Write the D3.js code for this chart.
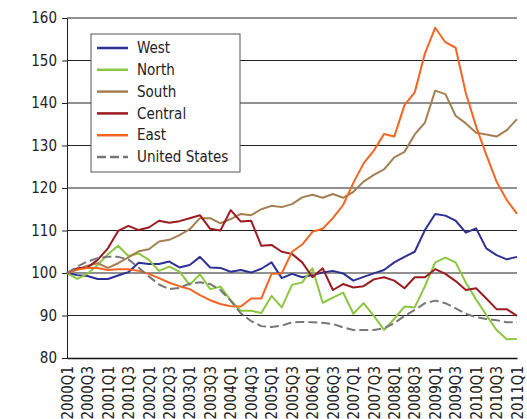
<!DOCTYPE html>
<html>
<head>
<meta charset="utf-8">
<script src="https://cdn.jsdelivr.net/npm/d3@7"></script>
<style>
  body { margin: 0; background: #fff; }
  svg text { font-family: "DejaVu Sans Condensed", "DejaVu Sans", sans-serif; font-stretch: condensed; fill: #222; }
</style>
</head>
<body>
<div id="chart"></div>
<script>
// quarters 2000Q1 .. 2011Q1
var quarters = [];
for (var yr = 2000; yr <= 2011; yr++) {
  for (var q = 1; q <= 4; q++) {
    if (yr == 2011 && q > 1) break;
    quarters.push(yr + "Q" + q);
  }
}

var yTicks = [80, 90, 100, 110, 120, 130, 140, 150, 160];

var west = [100, 99.5, 99.3, 98.6, 98.6, 99.4, 100.2, 102.4, 102.1, 102.1, 102.7, 101.3, 101.9, 103.8, 101.3, 101.2, 100.3, 100.7, 100.1, 101.0, 102.5, 98.8, 99.8, 99.0, 99.5, 100.1, 100.5, 99.9, 98.2, 99.1, 99.9, 100.7, 102.5, 103.8, 105.0, 110.1, 113.9, 113.5, 112.3, 109.5, 110.5, 105.8, 104.2, 103.2, 103.8];
var north = [100, 98.6, 99.8, 101.9, 104.4, 106.4, 104.0, 104.6, 103.1, 100.5, 101.5, 100.3, 97.2, 99.7, 96.2, 96.8, 93.6, 91.1, 91.1, 90.6, 94.6, 91.9, 97.2, 97.8, 101.1, 93.0, 94.2, 95.4, 90.4, 92.9, 89.9, 86.6, 89.2, 92.1, 91.9, 96.9, 102.5, 103.6, 102.5, 97.7, 93.8, 90.1, 86.6, 84.4, 84.5];
var south = [100, 100.8, 101.7, 102.3, 101.2, 102.3, 103.7, 105.1, 105.6, 107.4, 107.8, 108.9, 110.3, 112.9, 112.9, 111.7, 112.7, 113.9, 113.6, 115.0, 115.8, 115.5, 116.2, 117.8, 118.4, 117.7, 118.6, 117.7, 119.1, 121.5, 123.1, 124.4, 127.2, 128.5, 132.6, 135.4, 142.9, 142.1, 137.0, 135.2, 133.0, 132.6, 132.1, 133.6, 136.2];
var central = [100, 101.1, 101.3, 103.1, 105.8, 109.9, 111.1, 110.1, 110.7, 112.3, 111.8, 112.2, 112.9, 113.6, 110.4, 110.0, 114.8, 112.1, 112.3, 106.4, 106.6, 105.0, 104.5, 102.5, 99.0, 101.1, 96.0, 97.4, 96.6, 96.9, 98.5, 99.0, 98.2, 96.4, 99.0, 99.0, 100.9, 99.8, 98.1, 96.0, 96.4, 94.0, 91.5, 91.5, 89.9];
var east = [100, 100.8, 101.2, 101.2, 100.7, 100.9, 100.9, 100.5, 99.8, 98.8, 97.7, 96.9, 96.2, 94.8, 93.6, 92.7, 92.2, 92.1, 94.0, 94.0, 99.8, 99.9, 105.0, 106.7, 109.7, 110.4, 112.9, 116.0, 121.2, 125.8, 128.8, 132.7, 132.1, 139.5, 142.5, 151.7, 157.7, 154.3, 153.0, 142.3, 134.5, 127.8, 121.5, 117.2, 113.9];
var us = [100, 101.5, 102.7, 103.5, 103.8, 103.8, 103.2, 101.3, 99.2, 97.3, 96.2, 96.5, 97.5, 97.8, 97.4, 96.0, 93.5, 90.5, 88.7, 87.5, 87.3, 87.6, 88.4, 88.5, 88.4, 88.3, 88.0, 87.2, 86.6, 86.6, 86.6, 87.0, 88.2, 89.9, 91.3, 92.9, 93.5, 92.9, 91.7, 90.4, 89.6, 89.2, 88.9, 88.4, 88.4];

var seriesNames = ["West", "North", "South", "Central", "East", "United States"];
var seriesData = [west, north, south, central, east, us];
var seriesColors = ["#2e3192", "#8cc63f", "#a57f52", "#9b1b20", "#f26522", "#777777"];
var seriesDash = [null, null, null, null, null, "9,4"];

var width = 527, height = 419;
var svg = d3.select("#chart").append("svg")
            .attr("width", width)
            .attr("height", height);

var x = d3.scalePoint().domain(quarters).range([67, 517]);
var y = d3.scaleLinear().domain([80, 160]).range([358, 18]);

// grid
svg.append("g")
   .attr("class", "grid")
   .selectAll("line")
   .data(yTicks.slice(1))
   .enter().append("line")
   .attr("x1", 67).attr("x2", 517)
   .attr("y1", function(d) { return y(d); })
   .attr("y2", function(d) { return y(d); })
   .attr("stroke", "#222")
   .attr("stroke-width", 1);

var yAxis = svg.append("g")
   .attr("transform", "translate(67,0)")
   .call(d3.axisLeft(y).tickValues(yTicks).tickSize(5).tickPadding(5));
yAxis.select(".domain").attr("stroke", "#222");
yAxis.selectAll(".tick line").attr("stroke", "#222");
yAxis.selectAll("text").attr("font-size", "15px");

var xAxis = svg.append("g")
   .attr("transform", "translate(0,358)")
   .call(d3.axisBottom(x)
        .tickValues(quarters.filter(function(d, i) { return i % 2 == 0; }))
        .tickSize(0).tickSizeOuter(0));
xAxis.select(".domain").attr("stroke", "#111").attr("stroke-width", 1.5);
xAxis.selectAll("text")
   .attr("font-size", "15px")
   .attr("text-anchor", "end")
   .attr("transform", "rotate(-90)")
   .attr("x", -8)
   .attr("y", 0)
   .attr("dy", "0.35em");

var line = d3.line()
   .x(function(d, i) { return x(quarters[i]); })
   .y(function(d) { return y(d); });

seriesData.forEach(function(vals, k) {
  svg.append("path")
     .datum(vals)
     .attr("fill", "none")
     .attr("stroke", seriesColors[k])
     .attr("stroke-width", 2)
     .attr("stroke-dasharray", seriesDash[k])
     .attr("stroke-linejoin", "round")
     .attr("d", line);
});

// legend
var legend = svg.append("g").attr("transform", "translate(91,34)");
legend.append("rect")
      .attr("width", 149).attr("height", 138)
      .attr("fill", "#fff")
      .attr("stroke", "#555")
      .attr("stroke-width", 1);
seriesNames.forEach(function(name, k) {
  var ly = 14 + k * 21.8;
  legend.append("line")
        .attr("x1", 6).attr("x2", 37)
        .attr("y1", ly).attr("y2", ly)
        .attr("stroke", seriesColors[k])
        .attr("stroke-width", 2.5)
        .attr("stroke-dasharray", seriesDash[k]);
  legend.append("text")
        .attr("x", 46).attr("y", ly)
        .attr("dy", "0.35em")
        .attr("font-size", "15px")
        .text(name);
});
</script>
</body>
</html>
